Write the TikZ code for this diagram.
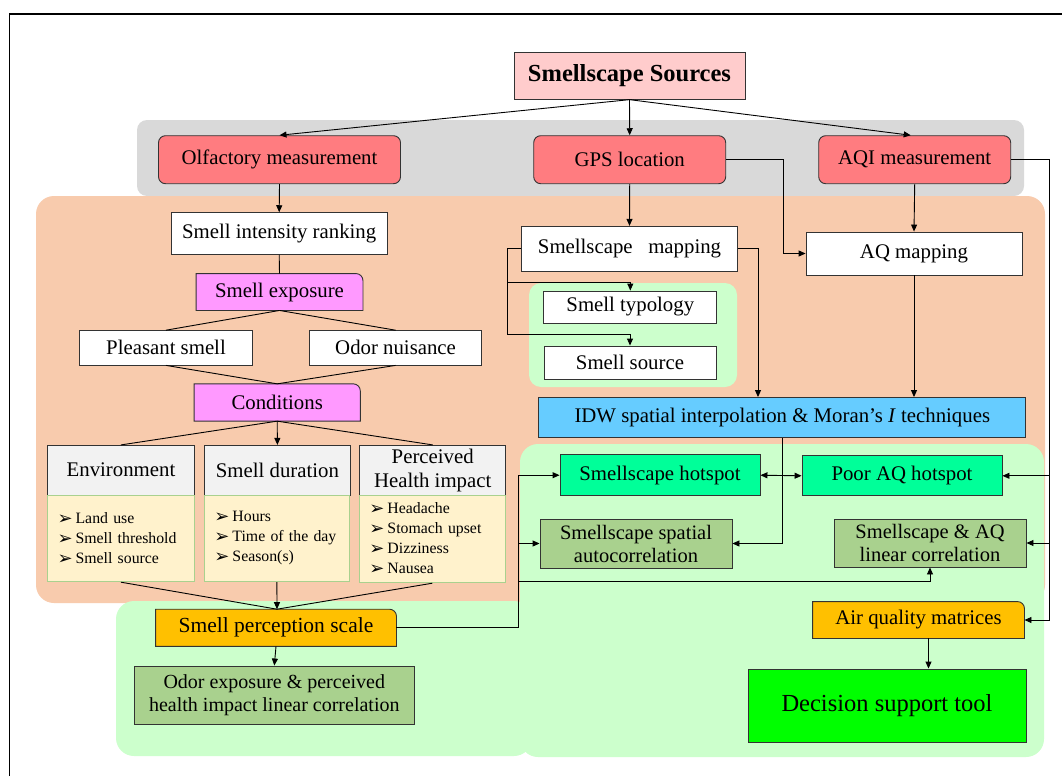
\documentclass[tikz,border=0pt]{standalone}
\usepackage{fontspec}
\setmainfont{Liberation Serif}
\newfontfamily\symfont{DejaVu Sans}
\usetikzlibrary{arrows.meta,calc}
\definecolor{srcpink}{HTML}{FFCCCC}
\definecolor{redm}{HTML}{FF7C80}
\definecolor{graybg}{HTML}{D9D9D9}
\definecolor{peach}{HTML}{F8CBAD}
\definecolor{lgreen}{HTML}{CCFFCC}
\definecolor{magp}{HTML}{FF99FF}
\definecolor{hdrgray}{HTML}{F2F2F2}
\definecolor{listy}{HTML}{FFF2CC}
\definecolor{listg}{HTML}{A9D18E}
\definecolor{orangeb}{HTML}{FFC000}
\definecolor{oliveb}{HTML}{A9D18E}
\definecolor{idwblue}{HTML}{66CCFF}
\definecolor{springb}{HTML}{00FF99}
\definecolor{dgreen}{HTML}{00FF00}
\definecolor{bordc}{HTML}{333333}
\pgfdeclarelayer{back}
\pgfdeclarelayer{mid}
\pgfsetlayers{back,mid,main}
\newcommand\bul{\raisebox{-1pt}{\symfont\fontsize{18}{18}\selectfont ➢}\hspace{3pt}}
\newcommand\cornerbox[2]{\begin{pgfonlayer}{mid}\draw[draw=bordc, line width=0.9pt, fill=#2] (#1.south west) -- (#1.north west) -- ([xshift=-7pt]#1.north east) arc[start angle=90,end angle=0,radius=7pt] -- (#1.south east) -- cycle;\end{pgfonlayer}}
\tikzset{
  base/.style={draw=bordc, line width=0.9pt, inner sep=0pt, align=center, text=black, font=\fontsize{20.8}{24}\selectfont},
  rbox/.style={base, fill=redm, rounded corners=7pt},
  plain/.style={base, fill=white},
  ghost/.style={base, draw=none, fill=none},
  hdr/.style={base, fill=hdrgray},
  lst/.style={base, fill=listy, draw=listg, align=left, font=\fontsize{15.8}{20}\selectfont},
  conn/.style={draw=black, line width=0.9pt},
  arr/.style={conn, -{Triangle[length=7pt,width=6pt]}},
  darr/.style={conn, {Triangle[length=7pt,width=6pt]}-{Triangle[length=7pt,width=6pt]}}
}
\begin{document}
\begin{tikzpicture}[x=1pt,y=-1pt]
\useasboundingbox (0,0) rectangle (1062,776);
\begin{pgfonlayer}{back}
  \fill[white] (0,0) rectangle (1062,776);
  \fill[graybg, rounded corners=10pt] (137,120) rectangle (1024,196);
  \fill[peach, rounded corners=18pt] (36,196) rectangle (1045,603);
  \fill[lgreen, rounded corners=18pt] (116,601) rectangle (532,756);
  \fill[lgreen, rounded corners=18pt] (520,444) rectangle (1044,757);
  \fill[lgreen, rounded corners=12pt] (529,283) rectangle (737,387);
\end{pgfonlayer}
\draw[line width=1.6pt] (9.6,776) -- (9.6,14) -- (1062,14);

% top
\node[base, fill=srcpink, minimum width=231pt, minimum height=47pt, font=\fontsize{24.5}{28}\selectfont\bfseries] (src) at (629.5,75.7) {Smellscape Sources};
\node[rbox, minimum width=242pt, minimum height=48pt] (olf) at (279.5,159.7) {Olfactory measurement};
\node[rbox, minimum width=192pt, minimum height=48pt] (gps) at (629.7,159.7) {GPS location};
\node[rbox, minimum width=192pt, minimum height=48pt] (aqi) at (914.7,159.7) {AQI measurement};

% left column
\node[plain, minimum width=216pt, minimum height=41.6pt] (sir) at (279.2,233.5) {Smell intensity ranking};
\node[ghost, minimum width=166pt, minimum height=36pt] (sexp) at (279.5,292) {Smell exposure};
\cornerbox{sexp}{magp}
\node[plain, minimum width=172.5pt, minimum height=34.3pt] (pls) at (166,347.8) {Pleasant smell};
\node[plain, minimum width=172.5pt, minimum height=34.3pt] (odn) at (395.6,347.8) {Odor nuisance};
\node[ghost, minimum width=165.3pt, minimum height=36.4pt] (cond) at (277.2,402.5) {Conditions};
\cornerbox{cond}{magp}
\node[hdr, minimum width=147pt, minimum height=49.7pt] (env) at (121,470.2) {Environment};
\node[lst, minimum width=147pt, minimum height=86.7pt, text width=127pt] (envl) at (121,538.4) {\bul Land use\\\bul Smell threshold\\\bul Smell source};
\node[hdr, minimum width=146.3pt, minimum height=49.7pt] (dur) at (277.4,470.2) {Smell duration};
\node[lst, minimum width=145.3pt, minimum height=86.7pt, text width=125pt] (durl) at (276.9,538.4) {\bul Hours\\\bul Time of the day\\\bul Season(s)};
\node[hdr, minimum width=145.6pt, minimum height=49.7pt] (per) at (432.7,470.2) {Perceived\\Health impact};
\node[lst, minimum width=146.3pt, minimum height=87.7pt, text width=126pt] (perl) at (432.4,538.9) {\bul Headache\\\bul Stomach upset\\\bul Dizziness\\\bul Nausea};
\node[ghost, minimum width=240pt, minimum height=36.3pt, font=\fontsize{21.5}{24}\selectfont] (sps) at (276,627.8) {Smell perception scale};
\cornerbox{sps}{orangeb}
\node[base, fill=oliveb, minimum width=279.4pt, minimum height=58pt, font=\fontsize{20}{23}\selectfont] (oec) at (274.3,695) {Odor exposure \& perceived\\health impact linear correlation};

% right part
\node[plain, minimum width=216pt, minimum height=45pt] (smap) at (629.5,248.8) {Smellscape\ \ \ mapping};
\node[plain, minimum width=216pt, minimum height=43pt] (aqmap) at (914,253.5) {AQ mapping};
\node[plain, minimum width=173pt, minimum height=32pt] (typ) at (630.3,307) {Smell typology};
\node[plain, minimum width=172pt, minimum height=33pt] (ssrc) at (630,362.5) {Smell source};
\node[base, fill=idwblue, minimum width=487pt, minimum height=40pt] (idw) at (782.3,417.5) {IDW spatial interpolation \& Moran’s \textit{I} techniques};
\node[base, fill=springb, minimum width=200pt, minimum height=41pt] (shot) at (660,475.2) {Smellscape hotspot};
\node[base, fill=springb, minimum width=200pt, minimum height=40pt] (aqhot) at (902,475.8) {Poor AQ hotspot};
\node[base, fill=oliveb, minimum width=192pt, minimum height=49pt, font=\fontsize{20.5}{23}\selectfont] (sauto) at (636,543.5) {Smellscape spatial\\autocorrelation};
\node[base, fill=oliveb, minimum width=192pt, minimum height=48pt, font=\fontsize{20.5}{23}\selectfont] (slin) at (930,543) {Smellscape \& AQ\\linear correlation};
\node[ghost, minimum width=211pt, minimum height=36pt] (aqm) at (918.5,620) {Air quality matrices};
\cornerbox{aqm}{orangeb}
\node[base, fill=dgreen, minimum width=278pt, minimum height=73pt, font=\fontsize{24.5}{28}\selectfont] (dst) at (887,705.5) {Decision support tool};

% helper coordinates
\coordinate (jx) at (518,0);
\coordinate (hl) at (518,581);
\coordinate (gx) at (783,0);
\coordinate (b1) at (507,282);
\coordinate (b2) at (507,334);
\coordinate (rx) at (758,0);
\coordinate (rr) at (1049,0);
\coordinate (aqmb) at ($(aqm.south)+(10,0)$);

% connectors
\draw[arr] (src.south) -- (olf.north);
\draw[arr] (src.south) -- (gps.north);
\draw[arr] (src.south) -- ([xshift=-4pt]aqi.north);
\draw[arr] (olf.south) -- (sir.north);
\draw[conn] (sir.south) -- (sexp.north);
\draw[conn] (sexp.south) -- (pls.north);
\draw[conn] (sexp.south) -- (odn.north);
\draw[conn] (pls.south) -- (cond.north);
\draw[conn] (odn.south) -- (cond.north);
\draw[conn] (cond.south) -- (env.north);
\draw[arr] (cond.south) -- (dur.north);
\draw[conn] (cond.south) -- (per.north);
\draw[conn] (envl.south) -- ([xshift=1pt]sps.north);
\draw[arr] (durl.south) -- ([xshift=1pt]sps.north);
\draw[conn] (perl.south) -- ([xshift=1pt]sps.north);
\draw[arr] (sps.south) -- (oec.north);

\draw[arr] (sps.east) -| (jx |- shot.west) -- (shot.west);
\draw[arr] (jx |- sauto.west) -- (sauto.west);
\draw[arr] (hl) -| (slin.south);

\draw[arr] (gps.south) -- (smap.north);
\draw[arr] (gps.east) -| (gx |- aqmap.west) -- (aqmap.west);
\draw[arr] (aqi.south) -- (aqmap.north);
\draw[arr] (aqmap.south) -- (aqmap.south |- idw.north);
\draw[conn] (smap.west) -| (b1);
\draw[arr] (b1) -| (typ.north);
\draw[arr] (b1) -- (b2) -| (ssrc.north);
\draw[arr] (smap.east) -| (rx |- idw.north);
\draw[arr] (idw.south) |- (sauto.east);
\draw[darr] (shot.east) -- (aqhot.west);
\draw[arr] (aqi.east) -| (rr |- aqm.east) -- (aqm.east);
\draw[arr] (rr |- aqhot.east) -- (aqhot.east);
\draw[arr] (rr |- slin.east) -- (slin.east);
\draw[arr] (aqmb) -- (aqmb |- dst.north);
\end{tikzpicture}
\end{document}
